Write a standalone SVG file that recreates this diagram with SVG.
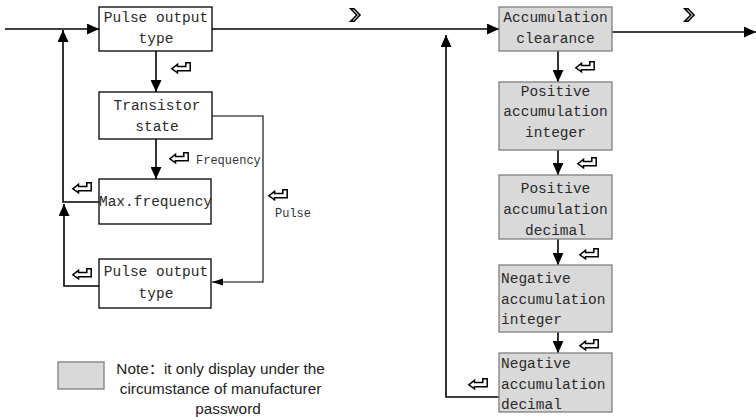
<svg xmlns="http://www.w3.org/2000/svg" xmlns:xlink="http://www.w3.org/1999/xlink" width="756" height="417" viewBox="0 0 756 417">
<style>
.box{fill:#ffffff;stroke:#000;stroke-width:1.3}
.gbox{fill:#d9d9d9;stroke:#7f7f7f;stroke-width:1.3}
.t{font-family:"Liberation Mono","DejaVu Sans Mono",monospace;font-size:14.5px;fill:#2a2a2a}
.c{text-anchor:middle}
.s{font-family:"Liberation Mono","DejaVu Sans Mono",monospace;font-size:12px;fill:#333}
.ln{fill:none;stroke:#000;stroke-width:1.6}
.thin{fill:none;stroke:#000;stroke-width:1.1}
.note{font-family:"Liberation Sans","Noto Sans CJK SC",sans-serif;font-size:15.3px;fill:#222}
</style>
<defs>
<marker id="arr" markerUnits="userSpaceOnUse" markerWidth="12" markerHeight="11" refX="12" refY="5.5" orient="auto">
<path d="M0,0 L12,5.5 L0,11 z" fill="#000"/>
</marker>
<marker id="arrs" markerUnits="userSpaceOnUse" markerWidth="11" markerHeight="8" refX="11" refY="4" orient="auto">
<path d="M0,0.5 L11,4 L0,7.5 z" fill="#000"/>
</marker>
<symbol id="ret" viewBox="0 0 20 11" width="20" height="11" overflow="visible">
<path d="M0.8,6.8 L6.5,2.2 L6.5,4.6 L14.8,4.6 L14.8,0.7 L19.2,0.7 L19.2,8.8 L6.5,8.8 L6.5,10.8 z" fill="#fff" stroke="#000" stroke-width="1.5" stroke-linejoin="miter"/>
</symbol>
<symbol id="chev" viewBox="0 0 11 14" width="11" height="14" overflow="visible">
<path d="M0.8,0.8 L4,0.8 L10,7 L4,13.2 L0.8,13.2 L6.8,7 z" fill="#fff" stroke="#000" stroke-width="1.6" stroke-linejoin="miter"/>
</symbol>
</defs>
<rect width="756" height="417" fill="#fff"/>

<g id="connectors">
<path class="ln" d="M5,29 H99" marker-end="url(#arr)"/>
<path class="ln" d="M212,29 H499" marker-end="url(#arr)"/>
<path class="ln" d="M612,32 H756" marker-end="url(#arr)"/>
<path class="ln" d="M156,51 V92" marker-end="url(#arr)"/>
<path class="ln" d="M156,139 V179" marker-end="url(#arr)"/>
<path class="ln" d="M99,202 H63 V30" marker-end="url(#arr)"/>
<path class="ln" d="M99,286 H64 V204" marker-end="url(#arr)"/>
<path class="thin" d="M212,116 H263 V282 H212" marker-end="url(#arrs)"/>
<path class="ln" d="M558,51 V82" marker-end="url(#arr)"/>
<path class="ln" d="M558,150 V175" marker-end="url(#arr)"/>
<path class="ln" d="M558,239 V265" marker-end="url(#arr)"/>
<path class="ln" d="M558,332 V353" marker-end="url(#arr)"/>
<path class="ln" d="M499,397 H446 V35" marker-end="url(#arr)"/>
<use href="#chev" x="350" y="8"/>
<use href="#chev" x="684" y="8"/>
<use href="#ret" x="171" y="62"/>
<use href="#ret" x="169" y="152"/>
<use href="#ret" x="72" y="182"/>
<use href="#ret" x="268" y="189"/>
<use href="#ret" x="72" y="268"/>
<use href="#ret" x="575" y="61"/>
<use href="#ret" x="577" y="157"/>
<use href="#ret" x="579" y="248"/>
<use href="#ret" x="579" y="339"/>
<use href="#ret" x="468" y="378"/>
<text class="s" x="196" y="164">Frequency</text>
<text class="s" x="275" y="217">Pulse</text>
</g>

<g id="pulse-output-type">
<rect class="box" x="99" y="7" width="113" height="44"/>
<text class="t c" x="156" y="22">Pulse output</text>
<text class="t c" x="156" y="43">type</text>
</g>
<g id="transistor-state">
<rect class="box" x="99" y="92" width="113" height="47"/>
<text class="t c" x="157" y="110">Transistor</text>
<text class="t c" x="157" y="131">state</text>
</g>
<g id="max-frequency">
<rect class="box" x="99" y="179" width="112" height="45"/>
<text class="t c" x="155.5" y="206">Max.frequency</text>
</g>
<g id="pulse-output-type-2">
<rect class="box" x="99" y="259" width="112" height="49"/>
<text class="t c" x="156" y="276">Pulse output</text>
<text class="t c" x="156" y="298">type</text>
</g>

<g id="accumulation-clearance">
<rect class="gbox" x="499" y="7" width="113" height="44"/>
<text class="t c" x="555.5" y="22">Accumulation</text>
<text class="t c" x="555.5" y="43">clearance</text>
</g>
<g id="positive-accumulation-integer">
<rect class="gbox" x="499" y="82" width="113" height="68"/>
<text class="t c" x="555.5" y="96">Positive</text>
<text class="t c" x="555.5" y="116">accumulation</text>
<text class="t c" x="555.5" y="137">integer</text>
</g>
<g id="positive-accumulation-decimal">
<rect class="gbox" x="499" y="175" width="113" height="64"/>
<text class="t c" x="555.5" y="193">Positive</text>
<text class="t c" x="555.5" y="214">accumulation</text>
<text class="t c" x="555.5" y="235">decimal</text>
</g>
<g id="negative-accumulation-integer">
<rect class="gbox" x="499" y="265" width="113" height="67"/>
<text class="t" x="501" y="283">Negative</text>
<text class="t" x="501" y="304">accumulation</text>
<text class="t" x="501" y="324">integer</text>
</g>
<g id="negative-accumulation-decimal">
<rect class="gbox" x="499" y="353" width="113" height="59"/>
<text class="t" x="501" y="368">Negative</text>
<text class="t" x="501" y="389">accumulation</text>
<text class="t" x="501" y="409">decimal</text>
</g>

<g id="legend">
<rect class="gbox" x="58" y="362" width="46" height="27"/>
<text class="note c" x="220.5" y="374">Note：it only display under the</text>
<text class="note c" x="220.5" y="394">circumstance of manufacturer</text>
<text class="note c" x="228" y="414">password</text>
</g>
</svg>
